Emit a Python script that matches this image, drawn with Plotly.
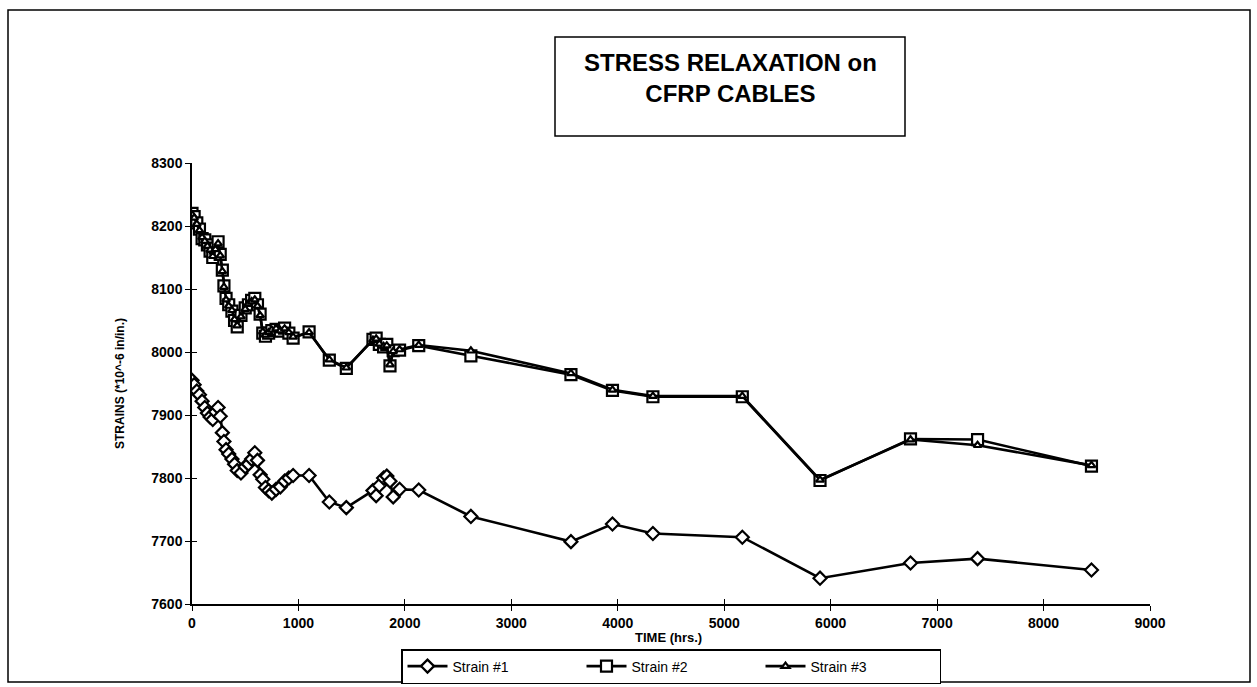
import plotly.graph_objects as go

# Elapsed time of each reading (hrs.)
time_hrs = [0, 20, 45, 70, 95, 120, 145, 170, 195, 220, 245, 265, 285, 300, 320,
            345, 375, 400, 425, 460, 500, 530, 560, 590, 615, 640, 665, 690, 720,
            750, 790, 830, 870, 910, 950, 1100, 1290, 1450, 1700, 1730, 1760, 1800,
            1830, 1860, 1890, 1950, 2130, 2620, 3560, 3950, 4330, 5170, 5900, 6750,
            7380, 8450]

# Strain readings (*10^-6 in/in.)
strain_1 = [7955, 7948, 7938, 7932, 7922, 7912, 7903, 7897, 7893, 7905, 7912, 7898,
            7872, 7858, 7845, 7838, 7830, 7822, 7812, 7808, 7818, 7822, 7830, 7840,
            7828, 7805, 7798, 7785, 7780, 7776, 7782, 7786, 7795, 7800, 7804, 7804,
            7762, 7753, 7780, 7772, 7788, 7800, 7803, 7795, 7770, 7782, 7781, 7739,
            7699, 7727, 7712, 7706, 7641, 7665, 7672, 7654]

strain_2 = [8220, 8215, 8205, 8195, 8180, 8178, 8170, 8160, 8150, 8165, 8175, 8155,
            8130, 8105, 8085, 8075, 8065, 8050, 8040, 8058, 8070, 8075, 8082, 8085,
            8075, 8060, 8030, 8025, 8030, 8034, 8036, 8033, 8038, 8030, 8022, 8032,
            7987, 7974, 8020, 8022, 8012, 8008, 8012, 7978, 8002, 8003, 8010, 7994,
            7964, 7939, 7929, 7929, 7796, 7862, 7861, 7819]

strain_3 = [8218, 8213, 8203, 8193, 8182, 8176, 8168, 8162, 8152, 8163, 8172, 8153,
            8128, 8103, 8083, 8073, 8066, 8052, 8042, 8056, 8068, 8077, 8080, 8083,
            8073, 8058, 8032, 8027, 8031, 8035, 8037, 8034, 8037, 8031, 8024, 8031,
            7988, 7975, 8019, 8021, 8013, 8009, 8010, 7980, 8001, 8004, 8011, 8002,
            7966, 7940, 7930, 7930, 7797, 7861, 7852, 7820]

x_ticks = list(range(0, 10000, 1000))
y_ticks = list(range(7600, 8400, 100))

FONT = "Liberation Sans, Arial, sans-serif"

W, H = 1257, 687
ML, MR, MT, MB = 192, 107, 163, 83
PW, PH = W - ML - MR, H - MT - MB


def px_to_paper_x(px):
    return (px - ML) / PW


def px_to_paper_y(py):
    return (H - MB - py) / PH


fig = go.Figure()

series = [
    ("Strain #1", strain_1, "diamond", 10),
    ("Strain #2", strain_2, "square", 11),
    ("Strain #3", strain_3, "triangle-up", 7),
]
for name, vals, sym, size in series:
    fig.add_trace(go.Scatter(
        x=time_hrs, y=vals, name=name, mode="lines+markers",
        line=dict(color="black", width=2.6),
        marker=dict(symbol=sym, size=size, color="white",
                    line=dict(color="black", width=2.2)),
    ))

# invisible trace carrying the inner half of the cross-style tick marks
fig.add_trace(go.Scatter(x=[x_ticks[0]], y=[y_ticks[0]], xaxis="x2", yaxis="y2",
                         mode="markers", marker=dict(opacity=0),
                         showlegend=False, hoverinfo="skip"))

axis_common = dict(showgrid=False, zeroline=False, linecolor="black",
                   linewidth=1.5, ticks="outside", ticklen=5, tickwidth=1.2,
                   tickcolor="black", showline=True, automargin=False,
                   tickfont=dict(family=FONT, size=14, color="black", weight="bold"))

fig.update_layout(
    width=W, height=H,
    margin=dict(l=ML, r=MR, t=MT, b=MB, autoexpand=False),
    paper_bgcolor="white", plot_bgcolor="white",
    font=dict(family=FONT, color="black"),
    xaxis=dict(range=[0, 9000], tickvals=x_ticks, **axis_common),
    yaxis=dict(range=[7600, 8300], tickvals=y_ticks, **axis_common,
               title=dict(text="STRAINS (*10^-6 in/in.)", standoff=24,
                          font=dict(family=FONT, size=12, weight="bold"))),
    xaxis2=dict(range=[0, 9000], tickvals=x_ticks, overlaying="x", side="bottom",
                ticks="inside", ticklen=5, tickwidth=1.2, tickcolor="black",
                showticklabels=False, showgrid=False, zeroline=False,
                showline=False, anchor="y2", automargin=False),
    yaxis2=dict(range=[7600, 8300], tickvals=y_ticks, overlaying="y", side="left",
                ticks="inside", ticklen=5, tickwidth=1.2, tickcolor="black",
                showticklabels=False, showgrid=False, zeroline=False,
                showline=False, anchor="x2", automargin=False),
    legend=dict(orientation="h", xref="container", yref="container",
                x=671 / W, xanchor="center",
                y=1 - 684 / H, yanchor="bottom",
                bordercolor="black", borderwidth=1.5, bgcolor="white",
                font=dict(family=FONT, size=14, color="black"),
                entrywidth=124, entrywidthmode="pixels",
                itemwidth=40, tracegroupgap=0),
    showlegend=True,
)

# x-axis caption
fig.add_annotation(xref="paper", yref="paper",
                   x=px_to_paper_x(668), y=px_to_paper_y(637),
                   xanchor="center", yanchor="middle", showarrow=False,
                   text="TIME (hrs.)",
                   font=dict(family=FONT, size=13, color="black", weight="bold"))

# outer frame around the whole chart
fig.add_shape(type="rect", xref="paper", yref="paper",
              x0=px_to_paper_x(8), x1=px_to_paper_x(1250),
              y0=px_to_paper_y(682), y1=px_to_paper_y(10),
              line=dict(color="black", width=1.5), layer="below")

# boxed chart title
fig.add_shape(type="rect", xref="paper", yref="paper",
              x0=px_to_paper_x(555), x1=px_to_paper_x(905),
              y0=px_to_paper_y(136), y1=px_to_paper_y(37),
              line=dict(color="black", width=1.5), fillcolor="white")
fig.add_annotation(xref="paper", yref="paper",
                   x=px_to_paper_x(730), y=px_to_paper_y(78),
                   xanchor="center", yanchor="middle",
                   text="STRESS RELAXATION on<br>CFRP CABLES", showarrow=False,
                   font=dict(family=FONT, size=24, color="black", weight="bold"),
                   align="center")

fig.write_html("out.html")
